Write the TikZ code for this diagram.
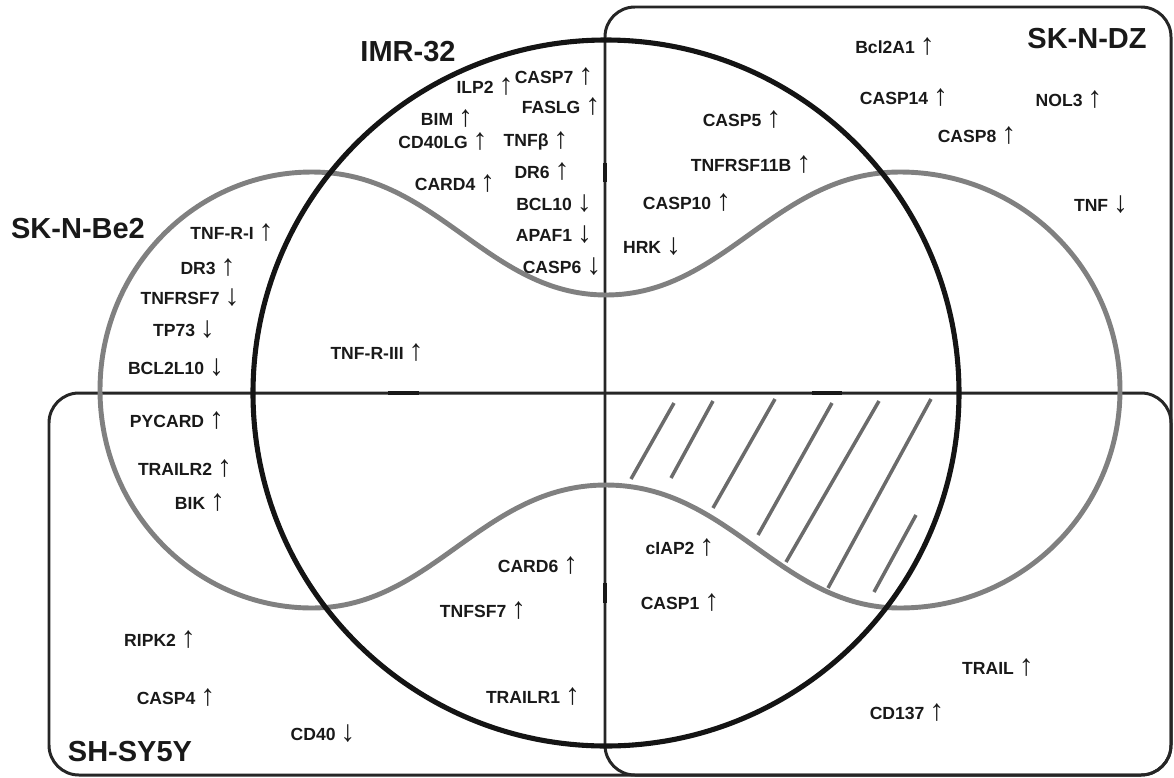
\documentclass[tikz,border=0pt]{standalone}
\usepackage{fontspec}
\setmainfont{Liberation Sans}
% thin, tall up/down arrows after each gene name
\newcommand\gup{\smash{\raisebox{-0.09em}{\mdseries\fontsize{17}{17}\selectfont ↑}}}
\newcommand\gdn{\smash{\raisebox{-0.09em}{\mdseries\fontsize{17}{17}\selectfont ↓}}}
\begin{document}
\begin{tikzpicture}[x=0.02cm,y=-0.02cm,
  gene/.style={font=\fontsize{10}{12}\selectfont\bfseries, inner sep=0pt, text=black!90},
  title/.style={font=\fontsize{16.5}{18}\selectfont\bfseries, inner sep=0pt, text=black!90},
  boxline/.style={draw=black!85, line width=1.7pt, rounded corners=17pt},
  ringline/.style={draw=black!92, line width=2.9pt},
  lobeline/.style={draw=black!50, line width=2.8pt},
  hatchline/.style={draw=black!58, line width=2pt},
  heavystroke/.style={draw=black!90, line width=2.6pt}]
\useasboundingbox (0,0) rectangle (1174,778);

% SK-N-DZ and SH-SY5Y frames
\draw[boxline] (605,7) rectangle (1171,775);
\draw[boxline] (49,393) rectangle (1171,775);

% SK-N-Be2 outline (two lobes joined by a waist)
\draw[lobeline]
  (606,295) .. controls (725,295) and (775,172) .. (900,172)
  .. controls (1021.5,172) and (1120,269.6) .. (1120,390)
  .. controls (1120,510.4) and (1021.5,608) .. (900,608)
  .. controls (780,608) and (730,485) .. (606,485)
  .. controls (482,485) and (432,608) .. (312,608)
  .. controls (195,608) and (100,510.4) .. (100,390)
  .. controls (100,269.6) and (195,172) .. (312,172)
  .. controls (437,172) and (487,295) .. (606,295) -- cycle;

% hatching of the shared region
\draw[hatchline] (674,403) -- (631,479);
\draw[hatchline] (713,401) -- (671,478);
\draw[hatchline] (775,399) -- (713,508);
\draw[hatchline] (832,403) -- (758,535);
\draw[hatchline] (879,401) -- (786,562);
\draw[hatchline] (931,399) -- (828,588);
\draw[hatchline] (916,515) -- (874,592);

% IMR-32 ring
\draw[ringline] (606,393) circle[radius=353];

% short heavier strokes on the frame lines
\draw[heavystroke] (388,393) -- (419,393);
\draw[heavystroke] (812,393) -- (842,393);
\draw[heavystroke] (605,163) -- (605,182);
\draw[heavystroke] (605,583) -- (605,603);

% set titles
\node[title] (imr) at (408,52) {IMR-32};
\node[title] (be2) at (78,229) {SK-N-Be2};
\node[title] (dz) at (1087,39) {SK-N-DZ};
\node[title] (sy) at (130,752) {SH-SY5Y};

% IMR-32 only
\node[gene] (g1) at (485,87) {ILP2 \gup};
\node[gene] (g2) at (554,77) {CASP7 \gup};
\node[gene] (g3) at (561,107) {FASLG \gup};
\node[gene] (g4) at (447,119) {BIM \gup};
\node[gene] (g5) at (443,142) {CD40LG \gup};
\node[gene] (g6) at (536,142) {TNFβ \gup};
\node[gene] (g7) at (542,172) {DR6 \gup};
\node[gene] (g8) at (455,184) {CARD4 \gup};
\node[gene] (g9) at (554,204) {BCL10 \gdn};
\node[gene] (g10) at (554,235) {APAF1 \gdn};
\node[gene] (g11) at (562,267) {CASP6 \gdn};

% SK-N-Be2 only
\node[gene] (g12) at (232,233) {TNF-R-I \gup};
\node[gene] (g13) at (208,268) {DR3 \gup};
\node[gene] (g14) at (190,298) {TNFRSF7 \gdn};
\node[gene] (g15) at (184,330) {TP73 \gdn};
\node[gene] (g16) at (176,368) {BCL2L10 \gdn};
\node[gene] (g17) at (377,353) {TNF-R-III \gup};

% SK-N-DZ
\node[gene] (g18) at (895,47) {Bcl2A1 \gup};
\node[gene] (g19) at (904,98) {CASP14 \gup};
\node[gene] (g20) at (1069,100) {NOL3 \gup};
\node[gene] (g21) at (977,136) {CASP8 \gup};
\node[gene] (g22) at (742,120) {CASP5 \gup};
\node[gene] (g23) at (751,165) {TNFRSF11B \gup};
\node[gene] (g24) at (687,203) {CASP10 \gup};
\node[gene] (g25) at (652,247) {HRK \gdn};
\node[gene] (g26) at (1101,205) {TNF \gdn};

% SH-SY5Y
\node[gene] (g27) at (177,421) {PYCARD \gup};
\node[gene] (g28) at (185,469) {TRAILR2 \gup};
\node[gene] (g29) at (200,503) {BIK \gup};
\node[gene] (g30) at (538,566) {CARD6 \gup};
\node[gene] (g31) at (483,611) {TNFSF7 \gup};
\node[gene] (g32) at (160,640) {RIPK2 \gup};
\node[gene] (g33) at (176,698) {CASP4 \gup};
\node[gene] (g34) at (533,697) {TRAILR1 \gup};
\node[gene] (g35) at (323,734) {CD40 \gdn};
\node[gene] (g36) at (680,548) {cIAP2 \gup};
\node[gene] (g37) at (680,603) {CASP1 \gup};
\node[gene] (g38) at (998,668) {TRAIL \gup};
\node[gene] (g39) at (907,713) {CD137 \gup};
\end{tikzpicture}
\end{document}
